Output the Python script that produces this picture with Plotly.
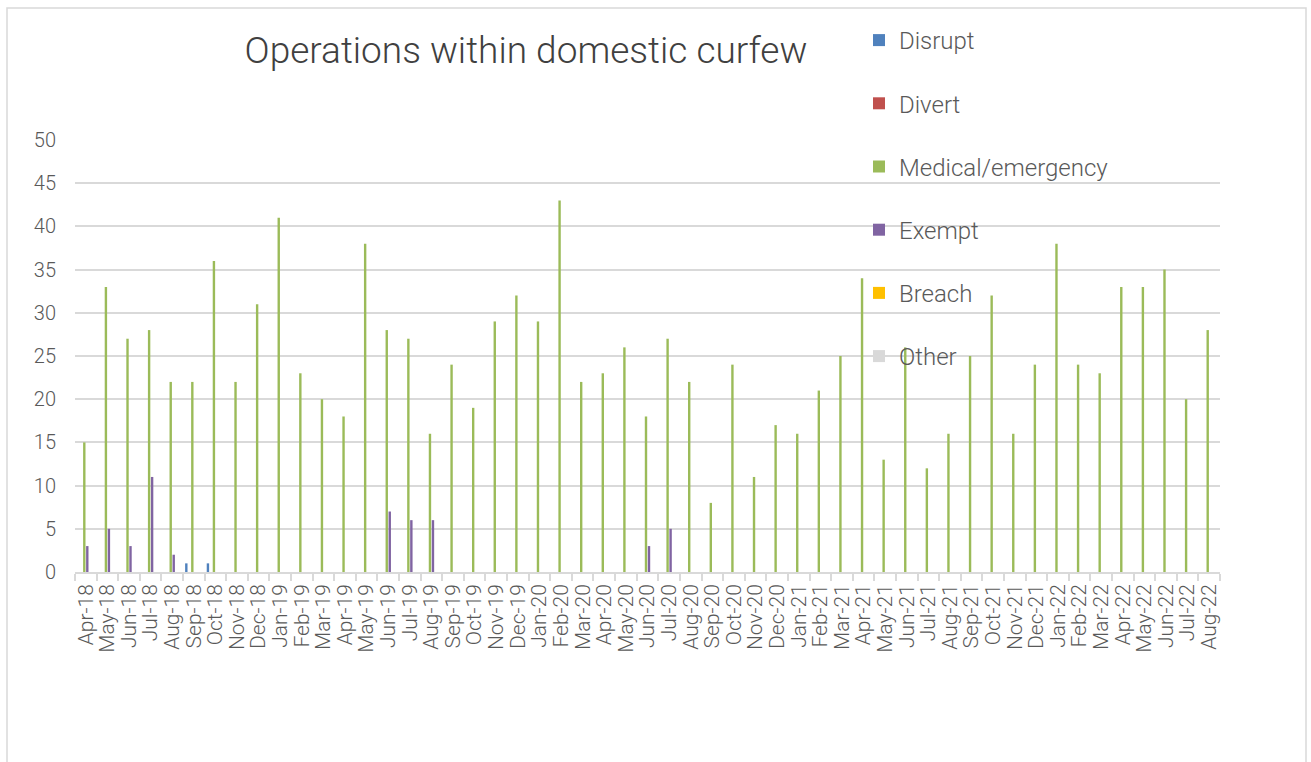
import plotly.graph_objects as go

months = ["Apr-18","May-18","Jun-18","Jul-18","Aug-18","Sep-18","Oct-18","Nov-18","Dec-18",
          "Jan-19","Feb-19","Mar-19","Apr-19","May-19","Jun-19","Jul-19","Aug-19","Sep-19","Oct-19","Nov-19","Dec-19",
          "Jan-20","Feb-20","Mar-20","Apr-20","May-20","Jun-20","Jul-20","Aug-20","Sep-20","Oct-20","Nov-20","Dec-20",
          "Jan-21","Feb-21","Mar-21","Apr-21","May-21","Jun-21","Jul-21","Aug-21","Sep-21","Oct-21","Nov-21","Dec-21",
          "Jan-22","Feb-22","Mar-22","Apr-22","May-22","Jun-22","Jul-22","Aug-22"]

medical = [15,33,27,28,22,22,36,22,31,
           41,23,20,18,38,28,27,16,24,19,29,32,
           29,43,22,23,26,18,27,22,8,24,11,17,
           16,21,25,34,13,26,12,16,25,32,16,24,
           38,24,23,33,33,35,20,28]

exempt = [3,5,3,11,2,0,0,0,0,
          0,0,0,0,0,7,6,6,0,0,0,0,
          0,0,0,0,0,3,5,0,0,0,0,0,
          0,0,0,0,0,0,0,0,0,0,0,0,
          0,0,0,0,0,0,0,0]

disrupt = [0,0,0,0,0,1,1] + [0]*46
divert = [0]*53
breach = [0]*53
other = [0]*53

series = [
    ("Disrupt", disrupt, "#4F81BD"),
    ("Divert", divert, "#C0504D"),
    ("Medical/emergency", medical, "#9BBB59"),
    ("Exempt", exempt, "#8064A2"),
    ("Breach", breach, "#FFC000"),
    ("Other", other, "#D9D9D9"),
]

FONT = "Roboto"
fig = go.Figure()
for name, vals, col in series:
    fig.add_trace(go.Bar(x=months, y=vals, name=name, marker_color=col,
                         marker_line_width=0, legendgroup=name))

L, R, T, B = 75, 91, 140, 190
W, H = 1311, 762
pw = W - L - R
ph = H - T - B

fig.update_layout(
    width=W, height=H,
    margin=dict(l=L, r=R, t=T, b=B, autoexpand=False),
    paper_bgcolor="white", plot_bgcolor="white",
    barmode="group", bargap=0.167, bargroupgap=0.2,
    font=dict(family=FONT, color="#595959", weight=300),
    title=dict(text="Operations within domestic curfew", xref="container", yref="container",
               x=526 / W, xanchor="center", y=1 - 50 / H, yanchor="middle",
               font=dict(family=FONT, size=37, color="#404040", weight=300)),
    legend=dict(x=(859 - L) / pw, xanchor="left", y=(H - B - 18) / ph, yanchor="top",
                yref="paper", xref="paper",
                font=dict(family=FONT, size=24, color="#595959", weight=300),
                bgcolor="rgba(0,0,0,0)", tracegroupgap=29, itemwidth=30),
    showlegend=True,
    xaxis=dict(type="category", tickmode="array", tickvals=months, ticktext=months,
               tickangle=-90, tickson="boundaries", ticks="outside",
               ticklen=7, tickcolor="#D9D9D9", tickwidth=1.5,
               showline=True, linecolor="#D9D9D9", linewidth=1.5,
               showgrid=False, tickfont=dict(family=FONT, size=21, color="#595959", weight=300),
               ticklabelstandoff=2),
    yaxis=dict(range=[0, 50], dtick=5, showgrid=True, gridcolor="#D9D9D9", gridwidth=1.5,
               zeroline=False, showline=False, ticks="",
               tickfont=dict(family=FONT, size=20, color="#595959", weight=300),
               ticklabelstandoff=18),
    shapes=[dict(type="rect", xref="paper", yref="paper",
                 x0=(7 - L) / pw, x1=(1306 - L) / pw,
                 y0=(H - B - 780) / ph, y1=(H - B - 8) / ph,
                 line=dict(color="#D9D9D9", width=1.5), fillcolor="rgba(0,0,0,0)", layer="below")],
)

fig.write_html("out.html", config={"displayModeBar": False},
               post_script="document.body.style.margin='0px';")
